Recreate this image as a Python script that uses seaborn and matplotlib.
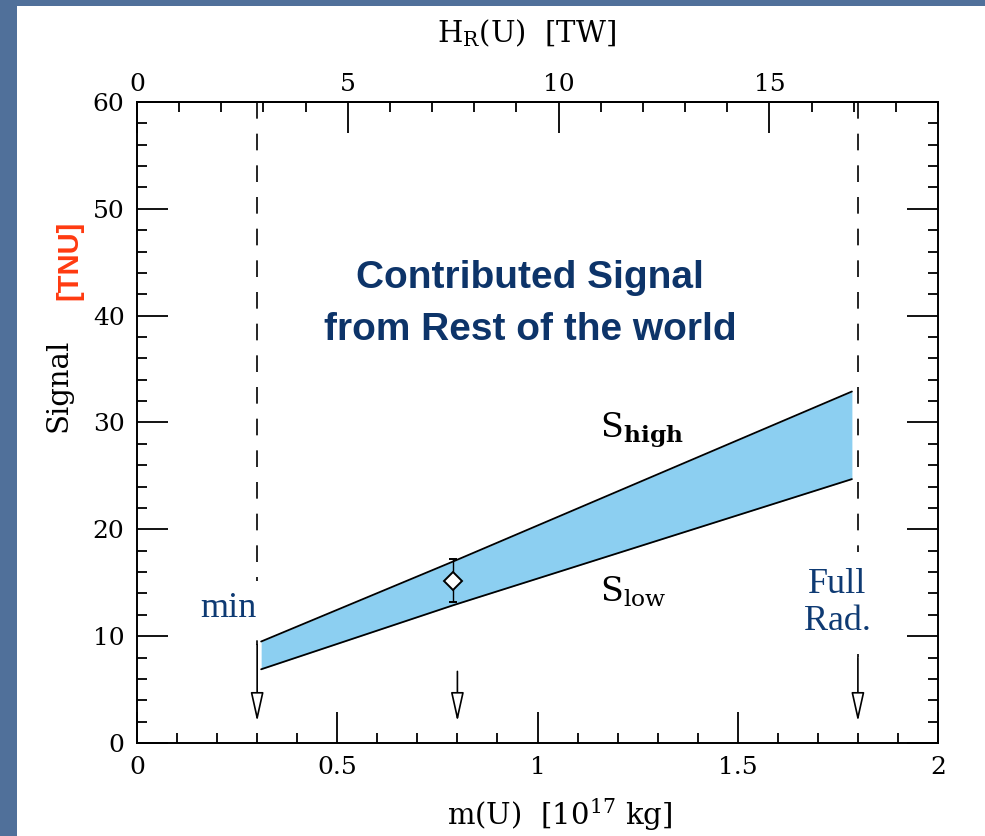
import matplotlib
matplotlib.use("Agg")
import numpy as np
import pandas as pd
import matplotlib.pyplot as plt
import seaborn as sns
from matplotlib.patches import Rectangle
from matplotlib.ticker import MultipleLocator

# --- data ---
band_mass = [0.31, 0.79, 1.785]          # m(U) [10^17 kg]
s_high = [9.5, 17.0, 32.9]               # TNU
s_low = [6.9, 12.9, 24.7]                # TNU

point_mass = [0.79]
point_signal = [15.2]
point_err = [2.0]

arrow_mass = [0.3, 0.8, 1.8]
arrow_start = [9.2, 6.7, 8.0]
arrow_tip = [2.0, 2.0, 2.0]

limit_mass = [0.3, 1.8]                  # dashed "min" / "full rad." lines
limit_bottom = [9.2, 8.0]

x_ticks = [0, 0.5, 1, 1.5, 2]
x_ticklabels = ["0", "0.5", "1", "1.5", "2"]
y_ticks = [0, 10, 20, 30, 40, 50, 60]
top_ticks = [0, 5, 10, 15]
TW_PER_MASS = 9.5                        # H_R(U) [TW] per 10^17 kg

band = pd.DataFrame({"m": band_mass, "high": s_high, "low": s_low})

sns.set_theme(style="white")
plt.rcParams["font.family"] = ["DejaVu Serif"]
plt.rcParams["mathtext.fontset"] = "dejavuserif"

fig = plt.figure(figsize=(9.85, 8.36), dpi=100, facecolor="#50709a")
fig.add_artist(Rectangle((17 / 985, 0), 1 - 17 / 985, 830 / 836,
                         transform=fig.transFigure, facecolor="white",
                         edgecolor="none", zorder=-5))
ax = fig.add_axes([137 / 985, 93 / 836, 801 / 985, 641 / 836])
ax.set_facecolor("white")

# band
ax.fill_between(band["m"], band["low"], band["high"], color="#8ccff1", lw=0, zorder=2)
sns.lineplot(data=band, x="m", y="high", color="black", lw=1.3, ax=ax, zorder=3)
sns.lineplot(data=band, x="m", y="low", color="black", lw=1.3, ax=ax, zorder=3)

# measured point
ax.errorbar(point_mass, point_signal, yerr=point_err, fmt="D", ms=9,
            mfc="white", mec="black", mew=1.4, ecolor="black", elinewidth=1.0,
            capsize=3, capthick=1.0, zorder=5)

# dashed limits
for xm, yb in zip(limit_mass, limit_bottom):
    ax.plot([xm, xm], [60, yb], color="black", lw=1.2,
            linestyle=(0, (10, 9)), zorder=1)

# arrows
for xm, y0, y1 in zip(arrow_mass, arrow_start, arrow_tip):
    ax.annotate("", xy=(xm, y1), xytext=(xm, y0),
                arrowprops=dict(arrowstyle="-|>,head_length=0.9,head_width=0.2",
                                fc="white", ec="black", lw=1.2,
                                mutation_scale=20, shrinkA=0, shrinkB=0),
                zorder=4)

# texts
navy = "#0d3469"
ax.text(0.981, 42.6, "Contributed Signal", ha="center", va="baseline",
        fontsize=28, fontweight="bold", color=navy, family="Liberation Sans")
ax.text(0.981, 37.7, "from Rest of the world", ha="center", va="baseline",
        fontsize=28, fontweight="bold", color=navy, family="Liberation Sans")
ax.text(1.156, 28.6, r"$\mathrm{S}_{\mathbf{high}}$", ha="left", va="baseline",
        fontsize=24, color="black")
ax.text(1.156, 13.2, r"$\mathrm{S}_{\mathrm{low}}$", ha="left", va="baseline",
        fontsize=24, color="black")
ax.text(0.227, 11.8, "min", ha="center", va="baseline", fontsize=26,
        color="#0e3a73", family="Liberation Serif", zorder=6,
        bbox=dict(boxstyle="square,pad=0.3", fc="white", ec="none"))
ax.text(1.748, 13.1, "Full\nRad.", ha="center", va="center", fontsize=26,
        color="#0e3a73", family="Liberation Serif", linespacing=1.15, zorder=6,
        bbox=dict(boxstyle="square,pad=0.45", fc="white", ec="none"))

# axes and ticks
ax.set_xlim(0, 2)
ax.set_ylim(0, 60)
ax.set_xticks(x_ticks)
ax.set_xticklabels(x_ticklabels)
ax.set_yticks(y_ticks)
ax.xaxis.set_minor_locator(MultipleLocator(0.1))
ax.yaxis.set_minor_locator(MultipleLocator(2))
ax.tick_params(which="both", direction="in", bottom=True, left=True, right=True,
               top=False, colors="black", labelsize=18)
ax.tick_params(which="major", length=22, width=1.3, pad=9)
ax.tick_params(which="minor", length=7.5, width=1.3)
for sp in ax.spines.values():
    sp.set_color("black")
    sp.set_linewidth(1.4)

ax.set_xlabel(r"m(U)  [10$^{17}$ kg]", fontsize=21, color="black")
ax.xaxis.set_label_coords(0.528, -0.084)
ax.set_ylabel("Signal", fontsize=21, color="black")
ax.yaxis.set_label_coords(-0.081, 0.558)
ax.text(-0.084, 0.753, "[TNU]", transform=ax.transAxes, rotation=90,
        ha="center", va="center", color="#ff3a10", fontsize=21,
        fontweight="bold", family="Liberation Sans")

secax = ax.secondary_xaxis("top", functions=(lambda m: m * TW_PER_MASS,
                                             lambda h: h / TW_PER_MASS))
secax.set_xticks(top_ticks)
secax.xaxis.set_minor_locator(MultipleLocator(1))
secax.tick_params(which="both", direction="in", colors="black", labelsize=18)
secax.tick_params(which="major", length=22, width=1.3, pad=4)
secax.tick_params(which="minor", length=7.5, width=1.3)
secax.spines["top"].set_color("black")
secax.spines["top"].set_linewidth(1.4)
ax.text(0.486, 1.083, r"H$_\mathrm{R}$(U)  [TW]", transform=ax.transAxes,
        ha="center", va="bottom", fontsize=21, color="black")

fig.savefig("out.png", dpi=100, facecolor=fig.get_facecolor())
